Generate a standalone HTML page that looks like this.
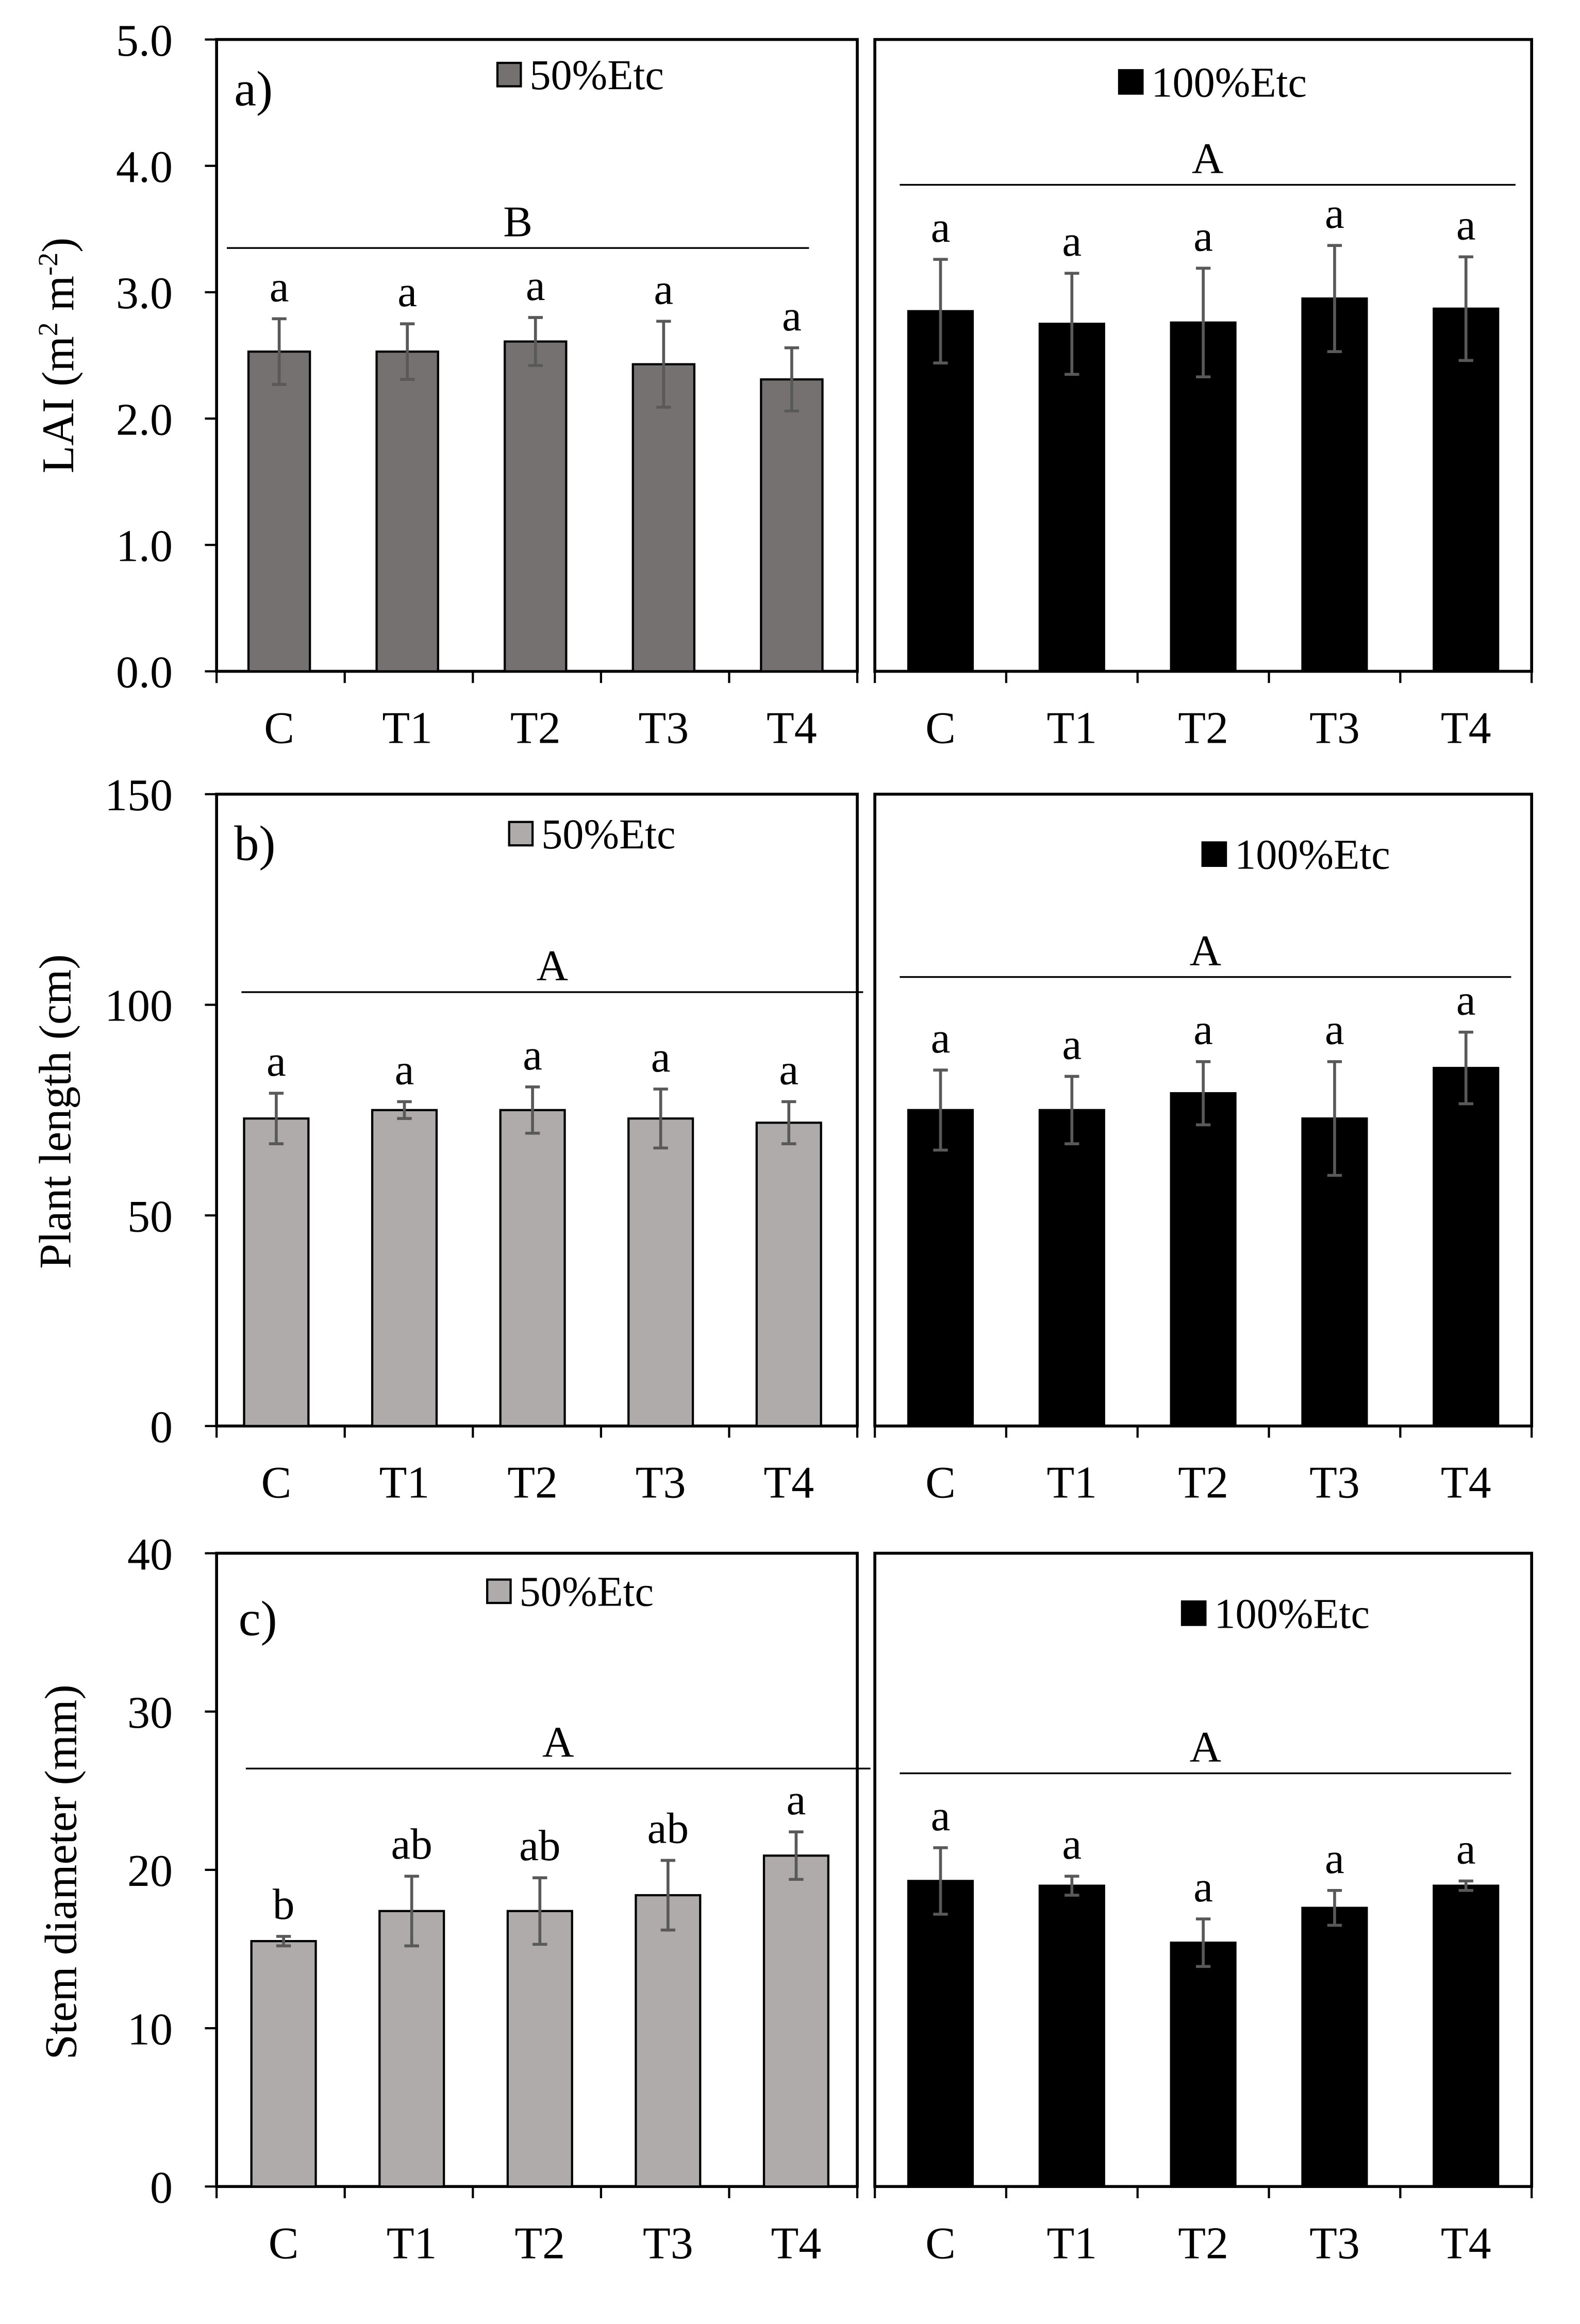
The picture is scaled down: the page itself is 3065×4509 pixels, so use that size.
<!DOCTYPE html>
<html><head><meta charset="utf-8"><style>
html,body{margin:0;padding:0;background:#fff}
svg{display:block}
text{font-family:"Liberation Serif",serif;fill:#000}
</style></head><body>
<svg id="chart" width="3065" height="4509" viewBox="0 0 1080 1589" xmlns="http://www.w3.org/2000/svg"></svg>
<script>
const categories = ["C","T1","T2","T3","T4"];
const laiLow = [2.53,2.53,2.61,2.43,2.31];
const laiLowErr = [0.26,0.22,0.19,0.34,0.25];
const laiHigh = [2.85,2.75,2.76,2.95,2.87];
const laiHighErr = [0.41,0.40,0.43,0.42,0.41];
const lenLow = [73,75,75,73,72];
const lenLowErr = [6,2,5.5,7,5];
const lenHigh = [75,75,79,73,85];
const lenHighErr = [9.5,8,7.5,13.5,8.5];
const stemLow = [15.5,17.4,17.4,18.4,20.9];
const stemLowErr = [0.3,2.2,2.1,2.2,1.5];
const stemHigh = [19.3,19.0,15.4,17.6,19.0];
const stemHighErr = [2.1,0.6,1.5,1.1,0.3];
const lettersA = ["a","a","a","a","a"];
const lettersC = ["b","ab","ab","ab","a"];
const ticksA = ["0.0","1.0","2.0","3.0","4.0","5.0"];
const ticksB = ["0","50","100","150"];
const ticksC = ["0","10","20","30","40"];

const svg = document.getElementById('chart');
const NS = "http://www.w3.org/2000/svg";
function mk(tag, attrs, txt){const e=document.createElementNS(NS,tag);for(const k in attrs)e.setAttribute(k,attrs[k]);if(txt!==undefined)e.textContent=txt;svg.appendChild(e);return e;}

function panel(o){
  const y = v => o.y0 - (v/o.max)*(o.y0-o.yTop);
  const fr = mk('rect',{x:o.x0,y:o.yTop,width:o.x1-o.x0,height:o.y0-o.yTop,fill:'none',stroke:'#000','stroke-width':2});
  
  
  const step=(o.x1-o.x0)/5;
  const cx = i => o.x0+step*(i+0.5);
  for(let i=0;i<=5;i++){const t=mk('line',{x1:o.x0+step*i,x2:o.x0+step*i,y1:o.y0,y2:o.y0+8,stroke:'#000','stroke-width':1.5});
    
    }
  if(o.ticks){o.ticks.forEach(tl=>{const v=parseFloat(tl);const yy=y(v);
    const t=mk('line',{x1:o.x0-8,x2:o.x0,y1:yy,y2:yy,stroke:'#000','stroke-width':1.5});
    
    
    const l=mk('text',{x:o.x0-30,y:yy+11,'text-anchor':'end','font-size':31},tl);
    
    });}
  categories.forEach((c,i)=>{
    const v=o.vals[i], e=o.errs[i], bx=cx(i)+o.off;
    const b=mk('rect',{x:bx-o.bw/2,y:y(v),width:o.bw,height:o.y0-y(v),fill:o.color,stroke:'#000','stroke-width':1.5});
    
    
    const eb=mk('path',{d:`M${bx} ${y(v+e)}V${y(v-e)}M${bx-5} ${y(v+e)}H${bx+5}M${bx-5} ${y(v-e)}H${bx+5}`,stroke:'#595959','stroke-width':2,fill:'none'});
    
    
    const lt=mk('text',{x:bx,y:y(v+e)-12,'text-anchor':'middle','font-size':30},o.letters[i]);
    
    
    const xl=mk('text',{x:cx(i)+o.off,y:o.y0+49,'text-anchor':'middle','font-size':31},c);
    
    
  });
  const gl=mk('line',{x1:o.gx1,x2:o.gx2,y1:y(o.gv),y2:y(o.gv),stroke:'#000','stroke-width':1.2});
  
  
  const gt=mk('text',{x:(o.gx1+o.gx2)/2,y:y(o.gv)-8,'text-anchor':'middle','font-size':30},o.gl);
  
  
  const ls=mk('rect',{x:o.lx,y:o.ly-16,width:16,height:16,fill:o.color,stroke:'#000','stroke-width':1.5});
  
  
  const lt=mk('text',{x:o.lx+22,y:o.ly+2,'font-size':29},o.legend);
  
  
}
panel({name:'lai-50',x0:148,x1:586,yTop:27,y0:459,max:5,vals:laiLow,errs:laiLowErr,color:'#767171',bw:42,off:-1,letters:lettersA,ticks:ticksA,gx1:155,gx2:553,gv:3.35,gl:'B',lx:340,ly:59,legend:'50%Etc'});
panel({name:'lai-100',x0:598,x1:1047,yTop:27,y0:459,max:5,vals:laiHigh,errs:laiHighErr,color:'#000',bw:44,off:0,letters:lettersA,gx1:615,gx2:1036,gv:3.85,gl:'A',lx:765,ly:64,legend:'100%Etc'});
panel({name:'len-50',x0:148,x1:586,yTop:543,y0:975,max:150,vals:lenLow,errs:lenLowErr,color:'#afabab',bw:44,off:-3,letters:lettersA,ticks:ticksB,gx1:165,gx2:590,gv:103,gl:'A',lx:348,ly:578,legend:'50%Etc'});
panel({name:'len-100',x0:598,x1:1047,yTop:543,y0:975,max:150,vals:lenHigh,errs:lenHighErr,color:'#000',bw:44,off:0,letters:lettersA,gx1:615,gx2:1033,gv:106.6,gl:'A',lx:822,ly:592,legend:'100%Etc'});
panel({name:'stem-50',x0:148,x1:586,yTop:1062,y0:1495,max:40,vals:stemLow,errs:stemLowErr,color:'#afabab',bw:44,off:2,letters:lettersC,ticks:ticksC,gx1:168,gx2:595,gv:26.4,gl:'A',lx:333,ly:1096,legend:'50%Etc'});
panel({name:'stem-100',x0:598,x1:1047,yTop:1062,y0:1495,max:40,vals:stemHigh,errs:stemHighErr,color:'#000',bw:44,off:0,letters:lettersA,gx1:615,gx2:1033,gv:26.1,gl:'A',lx:808,ly:1111,legend:'100%Etc'});
[['a)',160,72],['b)',160,588],['c)',163,1118]].forEach(p=>{const t=mk('text',{x:p[1],y:p[2],'font-size':34},p[0]);
  
  });
const yt1=mk('text',{transform:'translate(50,243) rotate(-90)','text-anchor':'middle','font-size':31});
yt1.innerHTML='LAI (m<tspan font-size="19" dy="-11">2</tspan><tspan dy="11"> m</tspan><tspan font-size="19" dy="-11">-2</tspan><tspan dy="11">)</tspan>';


const yt2=mk('text',{transform:'translate(48,760) rotate(-90)','text-anchor':'middle','font-size':31},'Plant length (cm)');


const yt3=mk('text',{transform:'translate(52,1280) rotate(-90)','text-anchor':'middle','font-size':31},'Stem diameter (mm)');


</script>
</body></html>
